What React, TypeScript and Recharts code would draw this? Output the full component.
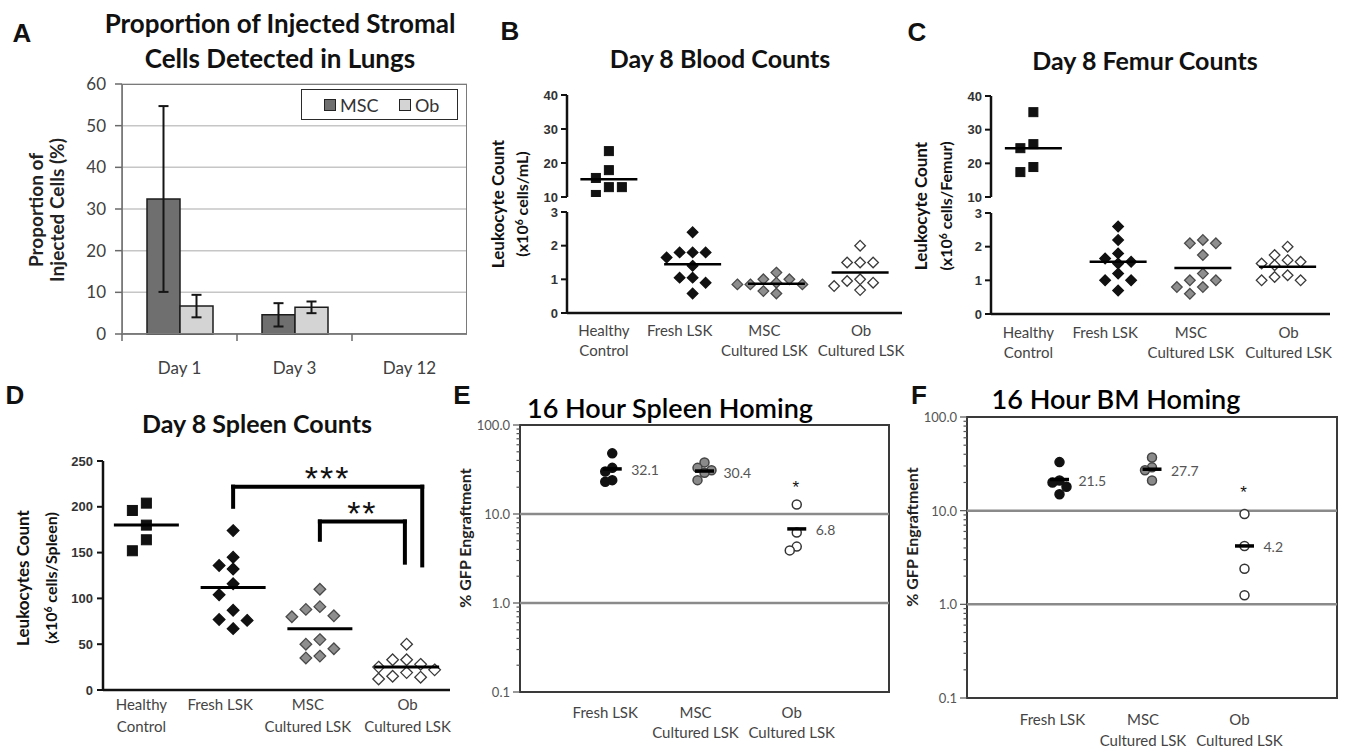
import React from 'react';
import {
  BarChart, Bar, XAxis, YAxis, CartesianGrid, ErrorBar,
  ScatterChart, Scatter, ReferenceLine, ReferenceArea, ReferenceDot,
} from 'recharts';

const LATO = 'Lato, "Open Sans", sans-serif';
const ARIAL = '"Liberation Sans", Arial, sans-serif';

// A - proportion of injected stromal cells found in lungs (%)
const lungDays = ['Day 1', 'Day 3', 'Day 12'];
const lungSeries = ['MSC', 'Ob'];
const lungMsc = [32.4, 4.6, null];
const lungMscErr = [22.3, 2.8, null];
const lungOb = [6.7, 6.4, null];
const lungObErr = [2.7, 1.4, null];
const lungTicks = [0, 10, 20, 30, 40, 50, 60];

// B, C, D - day 8 leukocyte counts
const countTickLines = [['Healthy', 'Control'], ['Fresh LSK'], ['MSC', 'Cultured LSK'], ['Ob', 'Cultured LSK']];
const upperTicks = [10, 20, 30, 40];
const lowerTicks = [0, 1, 2, 3];
const spleenTicks = [0, 50, 100, 150, 200, 250];

const bloodHealthy = [23.5, 17.9, 15.6, 12.9, 12.9, 10.6];
const bloodFresh = [2.4, 1.8, 1.8, 1.8, 1.65, 1.4, 1.05, 1.05, 0.9, 0.58];
const bloodMsc = [1.2, 1.0, 1.0, 0.9, 0.85, 0.85, 0.85, 0.65, 0.58];
const bloodOb = [2.0, 1.5, 1.5, 1.5, 1.0, 0.95, 0.9, 0.8, 0.68];
const bloodMeans = [15.2, 1.45, 0.87, 1.2];

const femurHealthy = [35.2, 25.7, 24.5, 18.9, 17.4];
const femurFresh = [2.6, 2.2, 1.8, 1.65, 1.55, 1.5, 1.2, 1.0, 1.0, 0.7];
const femurMsc = [2.2, 2.1, 2.1, 1.75, 1.2, 1.0, 1.0, 0.8, 0.8, 0.6];
const femurOb = [2.0, 1.75, 1.6, 1.55, 1.5, 1.45, 1.15, 1.1, 1.0, 1.0];
const femurMeans = [24.5, 1.55, 1.37, 1.4];

const spleenHealthy = [204, 196, 180, 164, 152];
const spleenFresh = [174, 145, 136, 132, 116, 104, 87, 77, 76, 67];
const spleenMsc = [110, 91, 88, 81, 80, 55, 50, 45, 37, 35];
const spleenOb = [50, 33, 33, 28, 25, 22, 19, 15, 14, 12];
const spleenMeans = [180, 112, 67, 25];
const spleenBrackets = [
  { from: 1, to: 3, top: 222, leftEnd: 200, rightEnd: 136, label: '***' },
  { from: 2, to: 3, top: 184, leftEnd: 164, rightEnd: 139, label: '**' },
];

// E, F - 16 hour homing (% GFP engraftment, log scale)
const homingTickLines = [['Fresh LSK'], ['MSC', 'Cultured LSK'], ['Ob', 'Cultured LSK']];
const spleenHomingFresh = [48, 33, 30, 24, 23];
const spleenHomingMsc = [38, 33, 31, 29, 24];
const spleenHomingOb = [12.8, 6.2, 4.3, 3.9];
const spleenHomingMeans = [32.1, 30.4, 6.8];
const spleenHomingStar = 22;

const bmHomingFresh = [33, 21, 20, 18, 15];
const bmHomingMsc = [37, 29, 27, 21];
const bmHomingOb = [9.2, 4.2, 2.4, 1.25];
const bmHomingMeans = [21.5, 27.7, 4.2];
const bmHomingStar = 17;

const majorLogTicks = [0.1, 1, 10, 100];
const logTicks: number[] = [];
[-1, 0, 1].forEach((d) => {
  for (let k = 1; k < 10; k++) logTicks.push(Number((k * Math.pow(10, d)).toPrecision(2)));
});
logTicks.push(100);

// styles
const groupMarkers = [
  { kind: 'square', fill: '#111', stroke: '#111' },
  { kind: 'diamond', fill: '#111', stroke: '#111' },
  { kind: 'diamond', fill: '#8e8e8e', stroke: '#4a4a4a' },
  { kind: 'diamond', fill: '#fff', stroke: '#3a3a3a' },
];
const homingMarkers = [
  { kind: 'circle', fill: '#111', stroke: '#111' },
  { kind: 'circle', fill: '#8a8a8a', stroke: '#444' },
  { kind: 'circle', fill: '#fff', stroke: '#333' },
];
const countLabelShift = [-5, -13, -12, 1];
const homingLabelShift = [-7, -9, -5];

type Pt = { x: number; y: number };

// spread points of one group sideways so they don't sit on each other
function swarm(values: number[], group: number, pxOf: (v: number) => number, step: number, minGap: number): Pt[] {
  const placed: { k: number; py: number }[] = [];
  return values.map((v) => {
    const py = pxOf(v);
    let k = 0;
    for (let i = 0; i < 20; i++) {
      const cand = i === 0 ? 0 : i % 2 ? -Math.ceil(i / 2) : Math.ceil(i / 2);
      if (!placed.some((p) => p.k === cand && Math.abs(p.py - py) < minGap)) {
        k = cand;
        break;
      }
    }
    placed.push({ k, py });
    return { x: group + k * step, y: v };
  });
}

const markerShape = (m: { kind: string; fill: string; stroke: string }, s: number) => (p: any) => {
  const { cx, cy } = p;
  if (!Number.isFinite(cx) || !Number.isFinite(cy)) return <g />;
  if (m.kind === 'square') {
    return <rect x={cx - s / 2} y={cy - s / 2} width={s} height={s} fill={m.fill} stroke={m.stroke} strokeWidth={1} />;
  }
  if (m.kind === 'circle') {
    return <circle cx={cx} cy={cy} r={s / 2} fill={m.fill} stroke={m.stroke} strokeWidth={1.5} />;
  }
  const h = s / 2 + 0.8;
  return (
    <polygon
      points={`${cx},${cy - h} ${cx + h},${cy} ${cx},${cy + h} ${cx - h},${cy}`}
      fill={m.fill}
      stroke={m.stroke}
      strokeWidth={1.3}
    />
  );
};

const meanShape = (w: number, sw: number, showLabel = false) => (p: any) => (
  <g>
    <line x1={p.cx - w / 2} x2={p.cx + w / 2} y1={p.cy} y2={p.cy} stroke="#000" strokeWidth={sw} />
    {showLabel && (
      <text x={p.cx + 19} y={p.cy + 1} dominantBaseline="central" fontSize={14} fill="#555" fontFamily={LATO}>
        {p.payload.y.toFixed(1)}
      </text>
    )}
  </g>
);

const catTick = (lines: string[][], shifts: number[], d1: number, gap: number, base: number) => (p: any) => {
  const i = Math.round(p.payload.value) - base;
  const rows = lines[i] || [];
  return (
    <g>
      {rows.map((t, j) => (
        <text
          key={j}
          x={p.x + (shifts[i] || 0)}
          y={p.y + d1 + j * gap}
          textAnchor="middle"
          dominantBaseline="central"
          fontSize={15}
          fill="#444"
          fontFamily={LATO}
        >
          {t}
        </text>
      ))}
    </g>
  );
};

const DayTick = (p: any) => (
  <g>
    <line x1={p.x - 57.5} x2={p.x - 57.5} y1={p.y} y2={p.y + 7} stroke="#6a6a6a" strokeWidth={1.5} />
    <text x={p.x} y={p.y + 33} textAnchor="middle" dominantBaseline="central" fontSize={17} fill="#404040" fontFamily={LATO}>
      {p.payload.value}
    </text>
  </g>
);

const LogTick = (p: any) => {
  const v = p.payload.value;
  const major = majorLogTicks.includes(v);
  return (
    <g>
      <line x1={p.x} x2={p.x - (major ? 7 : 3.5)} y1={p.y} y2={p.y} stroke="#555" strokeWidth={1.2} />
      {major && (
        <text x={p.x - 10} y={p.y} textAnchor="end" dominantBaseline="central" fontSize={13} fill="#555" fontFamily={LATO}>
          {v.toFixed(1)}
        </text>
      )}
    </g>
  );
};

const starShape = (text: string, size: number, lift: number) => (p: any) => (
  <text x={p.cx} y={p.cy + lift} textAnchor="middle" fontSize={size} fill="#111" fontFamily={ARIAL} letterSpacing={2}>
    {text}
  </text>
);

const prismY = {
  axisLine: { stroke: '#111', strokeWidth: 2.5 },
  tickLine: { stroke: '#111', strokeWidth: 2 },
  tickSize: 6,
  tickMargin: 3,
  tick: { fontSize: 13, fontWeight: 700, fill: '#333', fontFamily: ARIAL },
  interval: 0 as const,
};

const Txt = ({ x, y, size, weight = 400, family = LATO, color = '#111', rotate = 0, children }: any) => (
  <div
    style={{
      position: 'absolute',
      left: x,
      top: y,
      transform: `translate(-50%, -50%) rotate(${rotate}deg)`,
      fontSize: size,
      fontWeight: weight,
      fontFamily: family,
      color,
      whiteSpace: 'nowrap',
      lineHeight: 1,
    }}
  >
    {children}
  </div>
);

type BrokenProps = {
  left: number; width: number; axisX: number; plotRight: number;
  upperTop: number; upperBottom: number; lowerTop: number; lowerBottom: number;
  groups: number[][]; means: number[]; labelDy: number;
};

function BrokenCountPanel(props: BrokenProps) {
  const { left, width, axisX, plotRight, upperTop, upperBottom, lowerTop, lowerBottom, groups, means, labelDy } = props;
  const yw = axisX - left;
  const mr = left + width - plotRight;
  const band = (plotRight - axisX) / 4;
  const step = 13 / band;
  const upH = upperBottom - upperTop;
  const loH = lowerBottom - lowerTop;
  return (
    <>
      <div style={{ position: 'absolute', left, top: upperTop - 15 }}>
        <ScatterChart width={width} height={upH + 30} margin={{ top: 15, right: mr, bottom: 15, left: 0 }}>
          <XAxis type="number" dataKey="x" domain={[-0.5, 3.5]} allowDataOverflow hide />
          <YAxis type="number" dataKey="y" domain={[10, 40]} allowDataOverflow ticks={upperTicks} width={yw} {...prismY} />
          <Scatter
            data={swarm(groups[0], 0, (v) => (v * upH) / 30, step, 10)}
            shape={markerShape(groupMarkers[0], 9)}
            isAnimationActive={false}
          />
          <Scatter data={[{ x: 0, y: means[0] }]} shape={meanShape(57, 2.5)} isAnimationActive={false} />
        </ScatterChart>
      </div>
      <div style={{ position: 'absolute', left, top: lowerTop - 15 }}>
        <ScatterChart width={width} height={loH + 75} margin={{ top: 15, right: mr, bottom: 0, left: 0 }}>
          <XAxis
            type="number"
            dataKey="x"
            domain={[-0.5, 3.5]}
            allowDataOverflow
            ticks={[0, 1, 2, 3]}
            interval={0}
            height={60}
            axisLine={{ stroke: '#111', strokeWidth: 2.5 }}
            tickLine={false}
            tickSize={0}
            tickMargin={0}
            tick={catTick(countTickLines, countLabelShift, labelDy, 20, 0)}
          />
          <YAxis type="number" dataKey="y" domain={[0, 3]} allowDataOverflow ticks={lowerTicks} width={yw} {...prismY} />
          {groups.slice(1).map((g, i) => (
            <Scatter
              key={i}
              data={swarm(g, i + 1, (v) => (v * loH) / 3, step, 10)}
              shape={markerShape(groupMarkers[i + 1], 9)}
              isAnimationActive={false}
            />
          ))}
          <Scatter
            data={means.slice(1).map((m, i) => ({ x: i + 1, y: m }))}
            shape={meanShape(57, 2.5)}
            isAnimationActive={false}
          />
        </ScatterChart>
      </div>
    </>
  );
}

type HomingProps = {
  left: number; top: number; width: number; height: number; axisX: number; plotRight: number;
  plotTop: number; plotBottom: number; groups: number[][]; means: number[]; star: number;
  labelDy: number; labelGap: number;
};

function HomingPanel(props: HomingProps) {
  const { left, top, width, height, axisX, plotRight, plotTop, plotBottom, groups, means, star, labelDy, labelGap } = props;
  const band = (plotRight - axisX) / 4;
  const decade = (plotBottom - plotTop) / 3;
  const step = 7 / band;
  return (
    <div style={{ position: 'absolute', left, top }}>
      <ScatterChart
        width={width}
        height={height}
        margin={{ top: plotTop - top, right: left + width - plotRight, bottom: 0, left: 0 }}
      >
        <XAxis
          type="number"
          dataKey="x"
          domain={[0, 4]}
          allowDataOverflow
          ticks={[1, 2, 3]}
          interval={0}
          height={top + height - plotBottom}
          axisLine={false}
          tickLine={false}
          tickSize={0}
          tickMargin={0}
          tick={catTick(homingTickLines, homingLabelShift, labelDy, labelGap, 1)}
        />
        <YAxis
          type="number"
          dataKey="y"
          scale="log"
          domain={[0.1, 100]}
          allowDataOverflow
          ticks={logTicks}
          interval={0}
          width={axisX - left}
          axisLine={false}
          tickLine={false}
          tickSize={0}
          tickMargin={0}
          tick={LogTick}
        />
        <ReferenceLine y={1} stroke="#8a8a8a" strokeWidth={2.5} />
        <ReferenceLine y={10} stroke="#8a8a8a" strokeWidth={2.5} />
        <ReferenceArea x1={0} x2={4} y1={0.1} y2={100} fill="none" fillOpacity={0} stroke="#3a3a3a" strokeWidth={2} />
        {groups.map((g, i) => (
          <Scatter
            key={i}
            data={swarm(g, i + 1, (v) => Math.log10(v) * decade, step, 8)}
            shape={markerShape(homingMarkers[i], 9)}
            isAnimationActive={false}
          />
        ))}
        <Scatter
          data={means.map((m, i) => ({ x: i + 1, y: m }))}
          shape={meanShape(19, 3.5, true)}
          isAnimationActive={false}
        />
        <ReferenceDot x={3} y={star} shape={starShape('*', 17, 9)} />
      </ScatterChart>
    </div>
  );
}

function SpleenPanel() {
  const left = 0;
  const top = 440;
  const width = 460;
  const height = 300;
  const axisX = 103;
  const plotRight = 450;
  const plotTop = 461;
  const plotBottom = 690;
  const band = (plotRight - axisX) / 4;
  const step = 14 / band;
  const pxPerUnit = (plotBottom - plotTop) / 250;
  const groups = [spleenHealthy, spleenFresh, spleenMsc, spleenOb];
  const rightNudge = [0.18, -0.02];
  return (
    <div style={{ position: 'absolute', left, top }}>
      <ScatterChart width={width} height={height} margin={{ top: plotTop - top, right: left + width - plotRight, bottom: 0, left: 0 }}>
        <XAxis
          type="number"
          dataKey="x"
          domain={[-0.5, 3.5]}
          allowDataOverflow
          ticks={[0, 1, 2, 3]}
          interval={0}
          height={top + height - plotBottom}
          axisLine={{ stroke: '#111', strokeWidth: 2.5 }}
          tickLine={false}
          tickSize={0}
          tickMargin={0}
          tick={catTick(countTickLines, countLabelShift, 14, 22, 0)}
        />
        <YAxis type="number" dataKey="y" domain={[0, 250]} allowDataOverflow ticks={spleenTicks} width={axisX - left} {...prismY} tickMargin={4} />
        {groups.map((g, i) => (
          <Scatter
            key={i}
            data={swarm(g, i, (v) => v * pxPerUnit, step, 11)}
            shape={markerShape(groupMarkers[i], 10)}
            isAnimationActive={false}
          />
        ))}
        <Scatter data={spleenMeans.map((m, i) => ({ x: i, y: m }))} shape={meanShape(65, 3)} isAnimationActive={false} />
        {spleenBrackets.map((b, i) => {
          const xr = b.to + rightNudge[i];
          return (
            <React.Fragment key={i}>
              <ReferenceLine segment={[{ x: b.from, y: b.leftEnd }, { x: b.from, y: b.top }]} stroke="#000" strokeWidth={4} strokeLinecap="square" />
              <ReferenceLine segment={[{ x: b.from, y: b.top }, { x: xr, y: b.top }]} stroke="#000" strokeWidth={4} strokeLinecap="square" />
              <ReferenceLine segment={[{ x: xr, y: b.top }, { x: xr, y: b.rightEnd }]} stroke="#000" strokeWidth={4} strokeLinecap="square" />
              <ReferenceDot x={(b.from + xr) / 2} y={b.top + 17} shape={starShape(b.label, 34, 19)} />
            </React.Fragment>
          );
        })}
      </ScatterChart>
    </div>
  );
}

export default function App() {
  const lungRows = lungDays.map((d, i) => ({
    day: d,
    msc: lungMsc[i],
    mscErr: lungMscErr[i],
    ob: lungOb[i],
    obErr: lungObErr[i],
  }));
  const swatch = (left: number, fill: string) => (
    <div
      style={{
        position: 'absolute', left, top: '50%', width: 12, height: 12, marginTop: -6,
        background: fill, border: '1px solid #222', boxSizing: 'border-box',
      }}
    />
  );
  const legendText = (left: number, text: string) => (
    <div style={{ position: 'absolute', left, top: '50%', transform: 'translateY(-50%)', fontSize: 18, fontFamily: LATO, color: '#333', lineHeight: 1 }}>
      {text}
    </div>
  );
  const yLabel2 = (unit: string) => (
    <>
      (x10<sup style={{ fontSize: '0.65em', verticalAlign: '0.55em' }}>6</sup> cells/{unit})
    </>
  );

  return (
    <div style={{ position: 'absolute', left: 0, top: 0, width: 1349, height: 751, background: '#fff', overflow: 'hidden' }}>
      {/* A */}
      <div style={{ position: 'absolute', left: 0, top: 0 }}>
        <BarChart width={480} height={380} data={lungRows} margin={{ top: 84, right: 13, bottom: 0, left: 0 }} barGap={0} barSize={33}>
          <CartesianGrid vertical={false} stroke="#c6c6c6" strokeWidth={1.5} />
          <XAxis
            dataKey="day"
            height={46}
            interval={0}
            axisLine={{ stroke: '#6a6a6a', strokeWidth: 1.5 }}
            tickLine={false}
            tickSize={0}
            tickMargin={0}
            tick={DayTick}
          />
          <YAxis
            domain={[0, 60]}
            ticks={lungTicks}
            interval={0}
            width={122}
            tickSize={7}
            tickMargin={9}
            axisLine={{ stroke: '#6a6a6a', strokeWidth: 1.5 }}
            tickLine={{ stroke: '#6a6a6a', strokeWidth: 1.5 }}
            tick={{ fontSize: 17, fill: '#404040', fontFamily: LATO }}
          />
          <Bar dataKey="msc" name={lungSeries[0]} fill="#6f6f6f" stroke="#1c1c1c" strokeWidth={1.5} isAnimationActive={false}>
            <ErrorBar dataKey="mscErr" width={5} strokeWidth={2} stroke="#151515" direction="y" />
          </Bar>
          <Bar dataKey="ob" name={lungSeries[1]} fill="#d4d4d4" stroke="#1c1c1c" strokeWidth={1.5} isAnimationActive={false}>
            <ErrorBar dataKey="obErr" width={5} strokeWidth={2} stroke="#151515" direction="y" />
          </Bar>
        </BarChart>
      </div>
      <div style={{ position: 'absolute', left: 122, top: 84, width: 345, height: 250, border: '1.5px solid #7a7a7a', boxSizing: 'border-box', pointerEvents: 'none' }} />
      <div style={{ position: 'absolute', left: 301, top: 89, width: 157, height: 31, border: '1.5px solid #2a2a2a', boxSizing: 'border-box', background: '#fff' }}>
        {swatch(22, '#6f6f6f')}
        {legendText(38, lungSeries[0])}
        {swatch(97, '#d4d4d4')}
        {legendText(113, lungSeries[1])}
      </div>
      <Txt x={22} y={33} size={26} weight={700} family={ARIAL}>A</Txt>
      <Txt x={280} y={23} size={26} weight={700}>Proportion of Injected Stromal</Txt>
      <Txt x={280} y={58} size={26} weight={700}>Cells Detected in Lungs</Txt>
      <Txt x={35} y={210} size={19} weight={700} rotate={-90} color="#222">Proportion of</Txt>
      <Txt x={56} y={210} size={19} weight={700} rotate={-90} color="#222">Injected Cells (%)</Txt>

      {/* B */}
      <BrokenCountPanel
        left={470} width={440} axisX={567} plotRight={902}
        upperTop={95} upperBottom={197} lowerTop={212} lowerBottom={313}
        groups={[bloodHealthy, bloodFresh, bloodMsc, bloodOb]} means={bloodMeans} labelDy={17}
      />
      <Txt x={510} y={31} size={26} weight={700} family={ARIAL}>B</Txt>
      <Txt x={720} y={58} size={25} weight={700}>Day 8 Blood Counts</Txt>
      <Txt x={497} y={204} size={17} weight={700} rotate={-90}>Leukocyte Count</Txt>
      <Txt x={522} y={204} size={16} weight={700} rotate={-90}>{yLabel2('mL')}</Txt>

      {/* C */}
      <BrokenCountPanel
        left={900} width={449} axisX={991} plotRight={1330}
        upperTop={96} upperBottom={197} lowerTop={213} lowerBottom={314}
        groups={[femurHealthy, femurFresh, femurMsc, femurOb]} means={femurMeans} labelDy={18}
      />
      <Txt x={917} y={32} size={26} weight={700} family={ARIAL}>C</Txt>
      <Txt x={1145} y={60} size={25} weight={700}>Day 8 Femur Counts</Txt>
      <Txt x={920} y={206} size={17} weight={700} rotate={-90}>Leukocyte Count</Txt>
      <Txt x={946} y={206} size={16} weight={700} rotate={-90}>{yLabel2('Femur')}</Txt>

      {/* D */}
      <SpleenPanel />
      <Txt x={15} y={395} size={26} weight={700} family={ARIAL}>D</Txt>
      <Txt x={257} y={423} size={25} weight={700}>Day 8 Spleen Counts</Txt>
      <Txt x={22} y={578} size={17} weight={700} rotate={-90}>Leukocytes Count</Txt>
      <Txt x={51} y={578} size={16} weight={700} rotate={-90}>{yLabel2('Spleen')}</Txt>

      {/* E */}
      <HomingPanel
        left={440} top={400} width={460} height={351} axisX={520} plotRight={889} plotTop={425} plotBottom={692}
        groups={[spleenHomingFresh, spleenHomingMsc, spleenHomingOb]} means={spleenHomingMeans} star={spleenHomingStar}
        labelDy={20} labelGap={20}
      />
      <Txt x={462} y={395} size={26} weight={700} family={ARIAL}>E</Txt>
      <Txt x={670} y={407} size={27} weight={600} color="#000">16 Hour Spleen Homing</Txt>
      <Txt x={465} y={538} size={16} weight={700} rotate={-90} color="#222">% GFP Engraftment</Txt>

      {/* F */}
      <HomingPanel
        left={880} top={400} width={469} height={351} axisX={967} plotRight={1337} plotTop={417} plotBottom={698}
        groups={[bmHomingFresh, bmHomingMsc, bmHomingOb]} means={bmHomingMeans} star={bmHomingStar}
        labelDy={21} labelGap={21}
      />
      <Txt x={919} y={395} size={26} weight={700} family={ARIAL}>F</Txt>
      <Txt x={1116} y={398} size={27} weight={600} color="#000">16 Hour BM Homing</Txt>
      <Txt x={912} y={537} size={16} weight={700} rotate={-90} color="#222">% GFP Engraftment</Txt>
    </div>
  );
}
